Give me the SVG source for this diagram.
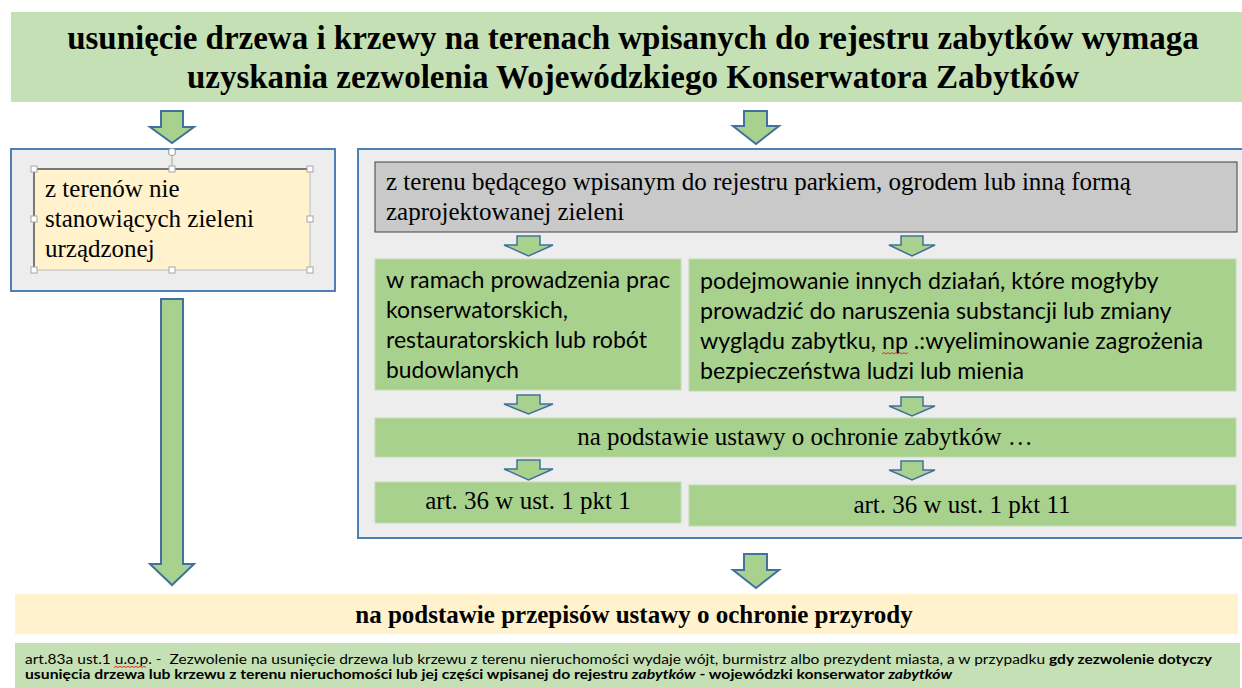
<svg xmlns="http://www.w3.org/2000/svg" width="1242" height="688" viewBox="0 0 1242 688">
<style>
.serif{font-family:"Liberation Serif","Times New Roman",serif;fill:#000}
.sans{font-family:Lato,"Liberation Sans",sans-serif;fill:#000}
.big{fill:#a9d18e;stroke:#41719c;stroke-width:2;stroke-linejoin:miter}
.sm{fill:#a9d18e;stroke:#41719c;stroke-width:1.5}
.green{fill:#a9d18e;stroke:#c3dbb5;stroke-width:1}
.cont{fill:#ededed;stroke:#4f7fb4;stroke-width:2}
.handle{fill:#fff;stroke:#a6a6a6;stroke-width:1}
.squig{fill:none;stroke:#e03030;stroke-width:1}
</style>
<rect width="1242" height="688" fill="#fff"/>

<g id="title">
<rect x="11" y="12" width="1231" height="90" fill="#c5e0b4"/>
<text class="serif" x="633" y="49" font-size="33" font-weight="bold" text-anchor="middle">usunięcie drzewa i krzewy na terenach wpisanych do rejestru zabytków wymaga</text>
<text class="serif" x="633" y="88" font-size="33" font-weight="bold" text-anchor="middle">uzyskania zezwolenia Wojewódzkiego Konserwatora Zabytków</text>
</g>

<g id="left-container">
<rect class="cont" x="11" y="149" width="324" height="142"/>
</g>
<g id="left-box">
<rect x="34" y="169" width="276" height="101" fill="#fff2cc" stroke="#bfbfbf" stroke-width="1"/>
<path d="M34 270 V169 H310" fill="none" stroke="#595959" stroke-width="1.5"/>
<line x1="172" y1="155" x2="172" y2="169" stroke="#a6a6a6" stroke-width="1"/>
<circle cx="172" cy="152" r="3.5" fill="#fff" stroke="#a6a6a6" stroke-width="1.2"/>
<rect class="handle" x="31" y="166" width="6" height="6"/>
<rect class="handle" x="169" y="166" width="6" height="6"/>
<rect class="handle" x="307" y="166" width="6" height="6"/>
<rect class="handle" x="31" y="216" width="6" height="6"/>
<rect class="handle" x="307" y="216" width="6" height="6"/>
<rect class="handle" x="31" y="267" width="6" height="6"/>
<rect class="handle" x="169" y="267" width="6" height="6"/>
<rect class="handle" x="307" y="267" width="6" height="6"/>
<text class="serif" font-size="25"><tspan x="45" y="197">z terenów nie</tspan><tspan x="45" y="227">stanowiących zieleni</tspan><tspan x="45" y="257">urządzonej</tspan></text>
</g>

<g id="right-container">
<rect class="cont" x="358" y="149" width="890" height="389"/>
</g>

<g id="gray-box">
<rect x="375" y="162" width="862" height="70" fill="#c9c9c9" stroke="#404040" stroke-width="1"/>
<text class="serif" font-size="25"><tspan x="386" y="190">z terenu będącego wpisanym do rejestru parkiem, ogrodem lub inną formą</tspan><tspan x="386" y="220">zaprojektowanej zieleni</tspan></text>
</g>

<g id="box-prace">
<rect class="green" x="375" y="259" width="306" height="131"/>
<text class="sans" font-size="23">
<tspan x="386" y="288" textLength="284" lengthAdjust="spacingAndGlyphs">w ramach prowadzenia prac</tspan>
<tspan x="386" y="318" textLength="182" lengthAdjust="spacingAndGlyphs">konserwatorskich,</tspan>
<tspan x="386" y="348" textLength="261" lengthAdjust="spacingAndGlyphs">restauratorskich lub robót</tspan>
<tspan x="386" y="378" textLength="133" lengthAdjust="spacingAndGlyphs">budowlanych</tspan>
</text>
</g>

<g id="box-dzialania">
<rect class="green" x="689" y="259" width="547" height="132"/>
<text class="sans" font-size="23">
<tspan x="700" y="289" textLength="458" lengthAdjust="spacingAndGlyphs">podejmowanie innych działań, które mogłyby</tspan>
<tspan x="700" y="319" textLength="471" lengthAdjust="spacingAndGlyphs">prowadzić do naruszenia substancji lub zmiany</tspan>
<tspan x="700" y="349" textLength="503" lengthAdjust="spacingAndGlyphs">wyglądu zabytku, np .:wyeliminowanie zagrożenia</tspan>
<tspan x="700" y="379" textLength="324" lengthAdjust="spacingAndGlyphs">bezpieczeństwa ludzi lub mienia</tspan>
</text>
<path class="squig" d="M882 354 l2 -1.5 l2 1.5 l2 -1.5 l2 1.5 l2 -1.5 l2 1.5 l2 -1.5 l2 1.5 l2 -1.5 l2 1.5 l2 -1.5 l2 1.5 l2 -1.5"/>
</g>

<g id="box-ustawa-zabytki">
<rect class="green" x="375" y="418" width="861" height="39"/>
<text class="serif" x="805" y="445" font-size="25" text-anchor="middle">na podstawie ustawy o ochronie zabytków …</text>
</g>

<g id="box-pkt1">
<rect class="green" x="375" y="482" width="306" height="41"/>
<text class="serif" x="528" y="509" font-size="25" text-anchor="middle">art. 36 w ust. 1 pkt 1</text>
</g>

<g id="box-pkt11">
<rect class="green" x="689" y="485" width="547" height="41"/>
<text class="serif" x="962" y="513" font-size="25" text-anchor="middle">art. 36 w ust. 1 pkt 11</text>
</g>

<g id="box-przyroda">
<rect x="15" y="594" width="1223" height="40" fill="#fff2cc"/>
<text class="serif" x="634" y="623" font-size="25" font-weight="bold" text-anchor="middle">na podstawie przepisów ustawy o ochronie przyrody</text>
</g>

<g id="box-art83a">
<rect x="15" y="643" width="1225" height="45" fill="#c5e0b4"/>
<text class="sans" x="25" y="664" font-size="13" textLength="1187" lengthAdjust="spacingAndGlyphs" xml:space="preserve">art.83a ust.1 u.o.p. -  Zezwolenie na usunięcie drzewa lub krzewu z terenu nieruchomości wydaje wójt, burmistrz albo prezydent miasta, a w przypadku <tspan font-weight="bold">gdy zezwolenie dotyczy</tspan></text>
<text class="sans" x="25" y="679" font-size="13" font-weight="bold" textLength="927" lengthAdjust="spacingAndGlyphs">usunięcia drzewa lub krzewu z terenu nieruchomości lub jej części wpisanej do rejestru <tspan font-style="italic">zabytków</tspan> - wojewódzki konserwator <tspan font-style="italic">zabytków</tspan></text>
<path class="squig" d="M114 667.5 l2 -1.2 l2 1.2 l2 -1.2 l2 1.2 l2 -1.2 l2 1.2 l2 -1.2 l2 1.2 l2 -1.2 l2 1.2 l2 -1.2 l2 1.2 l2 -1.2 l2 1.2 l2 -1.2 l2 1.2"/>
</g>

<g id="connectors">
<path class="big" d="M161 111 H183 V127 H194 L172 143 L150 127 H161 Z"/>
<path class="big" d="M744 111 H767 V126 H779 L756 144 L733 126 H744 Z"/>
<path class="big" d="M161 299 H183 V564 H194 L172 585 L150 564 H161 Z"/>
<path class="big" d="M744 554 H767 V570 H779 L756 588 L733 570 H744 Z"/>
<path class="sm" d="M517 236 H540 V245 H553 L528.5 256 L504 245 H517 Z"/>
<path class="sm" d="M901 236 H923 V245 H935 L912 256 L889 245 H901 Z"/>
<path class="sm" d="M517 395 H540 V404 H553 L528.5 414 L504 404 H517 Z"/>
<path class="sm" d="M901 397 H923 V406 H935 L912 416 L889 406 H901 Z"/>
<path class="sm" d="M517 460 H540 V469 H553 L528.5 480 L504 469 H517 Z"/>
<path class="sm" d="M901 461 H923 V470 H935 L912 480 L889 470 H901 Z"/>
</g>
</svg>
